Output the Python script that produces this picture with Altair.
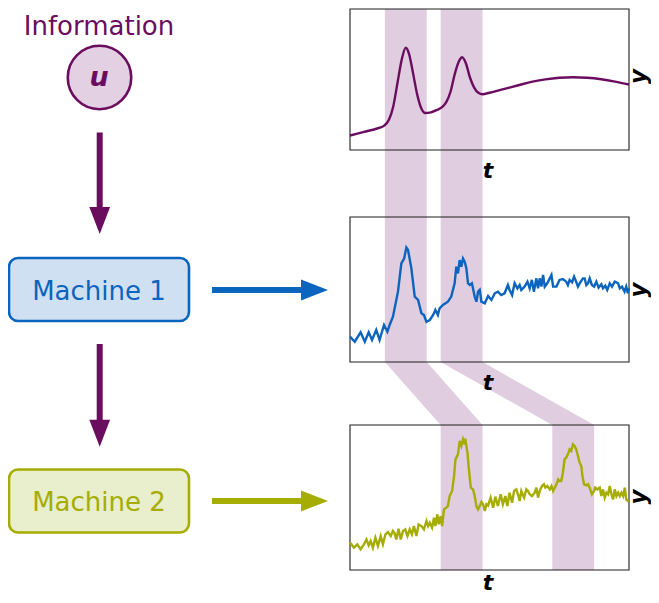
import altair as alt
import pandas as pd

# ---------------- data ----------------
# Information signal u(t) (smooth)
t_info = [0, 5, 10, 12, 14, 15.5, 17, 18.5, 20, 21.2, 22.5, 24, 25.5, 27, 29, 31, 33, 34.5, 36, 37.5,
          39, 40.2, 41.5, 43, 44.5, 46, 47.5, 50, 55, 60, 65, 70, 75, 80, 85, 90, 95, 100]
y_info = [1.0, 1.25, 1.5, 1.65, 2.1, 3.0, 4.6, 6.2, 7.05, 6.6, 5.4, 3.9, 2.9, 2.55, 2.6, 2.75, 2.95, 3.3, 4.0, 5.2,
          6.1, 6.4, 6.0, 5.0, 4.3, 3.95, 3.85, 3.95, 4.2, 4.45, 4.7, 4.87, 4.98, 5.02, 4.98, 4.88, 4.72, 4.52]

# Machine 1 output (noisy)
t_m1 = [0, 1.7, 3.8, 5.3, 6.7, 7.9, 9.4, 10.6, 12.2, 13.4, 14.2, 15.4, 17.2, 18.4, 19.4, 20.2, 20.8, 22.0, 23.2, 24.4,
        25.6, 26.5, 27.4, 28.6, 29.8, 30.6, 31.5, 32.1, 33.3, 35.1, 36.3, 37.5, 38.1, 38.7, 39.3, 39.9, 40.5, 41.1, 41.7, 42.3,
        42.9, 43.7, 44.7, 45.3, 45.9, 46.5, 47.1, 48.3, 49.5, 50.7, 51.9, 53.0, 54.2, 55.4, 56.6, 57.2, 58.1, 59.0, 60.0, 60.8,
        61.4, 62.6, 63.6, 64.4, 65.2, 65.9, 66.8, 67.4, 68.0, 68.6, 69.2, 69.8, 70.7, 71.6, 72.2, 72.8, 74.0, 75.1, 76.3, 77.5,
        78.1, 78.7, 79.6, 80.3, 80.8, 81.7, 82.7, 83.5, 84.1, 84.7, 85.3, 85.9, 86.7, 87.5, 88.3, 89.1, 90.1, 90.7, 91.5, 92.2,
        93.1, 93.9, 94.9, 96.1, 96.7, 97.5, 98.4, 99.0, 99.6, 100]
y_m1 = [1.75, 1.40, 2.05, 1.40, 2.05, 1.52, 2.21, 1.52, 2.55, 2.09, 2.55, 3.13, 4.85, 6.80, 7.14, 7.89, 7.72, 6.46, 4.51, 4.28,
        3.36, 3.24, 2.78, 2.90, 3.24, 3.59, 3.24, 3.70, 3.93, 4.16, 4.51, 5.43, 6.57, 6.11, 7.03, 6.57, 7.14, 6.92, 6.46, 5.43,
        5.31, 5.43, 4.51, 4.16, 4.85, 4.97, 4.16, 4.05, 4.55, 4.28, 4.74, 4.85, 4.62, 4.74, 5.31, 4.97, 4.62, 5.43, 5.08, 5.31,
        4.97, 5.20, 5.54, 5.08, 5.66, 4.85, 5.77, 5.08, 5.77, 5.20, 6.00, 5.20, 5.43, 5.77, 6.00, 5.20, 5.20, 5.66, 5.72, 5.54,
        5.31, 5.66, 5.49, 5.89, 5.66, 5.20, 5.54, 5.77, 5.77, 5.31, 5.43, 5.77, 5.31, 5.20, 5.54, 5.13, 5.36, 5.08, 5.26, 4.97,
        5.43, 5.20, 5.54, 5.43, 5.08, 5.20, 4.85, 5.20, 4.74, 5.08]

# Machine 2 output (noisy)
t_m2 = [0, 1.4, 2.6, 3.8, 5.0, 5.9, 6.7, 7.4, 8.2, 9.1, 10.0, 11.0, 11.8, 12.7, 13.6, 14.6, 15.4, 16.0, 16.6, 17.4,
        18.2, 19.0, 19.8, 20.6, 21.4, 22.2, 22.9, 23.8, 24.6, 25.6, 26.5, 27.4, 28.0, 28.6, 29.4, 30.1, 30.6, 31.3, 31.8, 32.5,
        33.0, 33.7, 34.5, 35.1, 35.7, 36.6, 37.3, 37.8, 38.7, 39.3, 39.9, 40.5, 41.1, 41.3, 42.1, 42.5, 43.3, 44.1, 44.7, 45.3,
        45.9, 46.5, 47.1, 47.7, 48.3, 48.9, 49.5, 50.4, 51.3, 52.1, 53.0, 54.0, 54.8, 55.7, 56.4, 57.2, 58.1, 58.8, 59.6, 60.2,
        60.8, 61.4, 62.4, 63.2, 63.8, 64.4, 65.2, 66.2, 66.8, 67.4, 68.0, 68.8, 69.5, 70.0, 70.7, 71.6, 72.2, 72.8, 73.4, 74.0,
        74.6, 75.1, 75.7, 76.3, 76.9, 77.5, 78.1, 78.7, 79.3, 79.9, 80.5, 81.1, 81.7, 82.3, 82.9, 83.3, 83.9, 84.7, 85.3, 85.9,
        86.7, 87.5, 87.9, 88.6, 89.5, 90.1, 90.7, 91.3, 91.9, 92.5, 93.1, 93.7, 94.3, 94.9, 95.5, 96.1, 96.7, 97.3, 97.9, 98.5,
        99.0, 99.6, 100]
y_m2 = [1.89, 1.54, 1.77, 1.43, 1.77, 2.11, 1.70, 2.00, 1.54, 2.23, 1.66, 2.34, 1.77, 2.46, 2.62, 2.34, 2.69, 2.53, 2.11, 2.85,
        2.11, 2.69, 2.80, 2.34, 2.80, 2.46, 3.03, 2.34, 3.15, 3.03, 2.80, 3.38, 3.03, 3.26, 2.92, 3.61, 3.03, 3.84, 3.15, 3.72,
        3.03, 4.18, 4.30, 4.41, 5.10, 5.45, 6.48, 7.63, 7.98, 8.90, 8.55, 9.01, 8.67, 9.06, 8.09, 7.17, 5.68, 5.56, 5.10, 4.41,
        4.18, 4.41, 4.69, 4.53, 4.07, 4.53, 4.45, 4.99, 4.30, 5.06, 4.41, 5.22, 4.53, 5.10, 4.41, 5.33, 4.64, 5.45, 5.56, 5.22,
        4.76, 5.45, 4.99, 5.56, 5.45, 5.22, 5.10, 5.33, 5.68, 4.99, 5.45, 5.79, 5.91, 5.68, 5.79, 5.56, 5.79, 5.45, 5.68, 5.91,
        6.25, 6.14, 6.14, 6.71, 7.63, 7.75, 7.98, 8.32, 8.21, 8.67, 8.55, 8.32, 7.86, 7.40, 7.17, 6.48, 5.91, 5.84, 5.91, 5.68,
        5.22, 5.45, 5.68, 5.56, 5.68, 5.10, 5.56, 4.99, 5.33, 5.22, 5.79, 5.22, 4.87, 5.56, 5.10, 5.33, 5.10, 5.33, 5.10, 5.68,
        4.87, 4.76, 4.80]

# highlighted time windows (t units): upper panels -> lower panel
band_upper_start = [12.5, 32.5]
band_lower_start = [32.5, 72.5]
band_width = 15.0

node_labels = ["Information", "Machine 1", "Machine 2"]
symbol_u = "u"
axis_t = "t"
axis_y = "y"

# ---------------- layout / style ----------------
W, H, M = 659, 603, 8
PL, PR = 350, 629
PH = 145
BOTTOMS = [150, 362, 570]
TOPS = [9, 217, 425]
SX = (PR - PL) / 100.0
SY = PH / 10.0

PURPLE = "#6b0d5f"
BAND = "#e0cde0"
CIRC_FILL = "#e3d0e3"
BLUE = "#0b64bd"
BLUE_FILL = "#cfe0f2"
OLIVE = "#a5ad00"
OLIVE_FILL = "#e9eecc"
FONT = "DejaVu Sans"

XS = alt.Scale(domain=[M, W - M], nice=False, zero=False)
YS = alt.Scale(domain=[M, H - M], nice=False, zero=False, reverse=True)


def X(f):
    return alt.X(f, type="quantitative", scale=XS, axis=None)


def Y(f):
    return alt.Y(f, type="quantitative", scale=YS, axis=None)


# bands (vertical strip through panels 1-2, slanted link, strip through panel 3)
rows = []
for i, (a, b) in enumerate(zip(band_upper_start, band_lower_start)):
    for yy, s in [(TOPS[0], a), (BOTTOMS[1], a), (TOPS[2], b), (BOTTOMS[2], b)]:
        rows.append({"band": i, "py": yy, "t0": s, "t1": s + band_width})
bands = (
    alt.Chart(pd.DataFrame(rows))
    .transform_calculate(x0=f"{PL} + datum.t0 * {SX}", x1=f"{PL} + datum.t1 * {SX}")
    .mark_area(orient="horizontal", color=BAND, opacity=1)
    .encode(y=Y("py"), x=X("x0"), x2=alt.X2("x1"), detail="band:N")
)

# panel frames
frames = (
    alt.Chart(pd.DataFrame({"yt": TOPS, "yb": BOTTOMS, "xl": [PL] * 3, "xr": [PR] * 3}))
    .mark_rect(fillOpacity=0, stroke="#1e1e1e", strokeWidth=1.1)
    .encode(x=X("xl"), x2=alt.X2("xr"), y=Y("yt"), y2=alt.Y2("yb"))
)


def series(ts, vs, yb, color, interp):
    df = pd.DataFrame({"t": ts, "v": vs})
    return (
        alt.Chart(df)
        .transform_calculate(px=f"{PL} + datum.t * {SX}", py=f"{yb} - datum.v * {SY}")
        .mark_line(color=color, strokeWidth=2.4, interpolate=interp)
        .encode(x=X("px"), y=Y("py"), order=alt.Order("t:Q"))
    )


line1 = series(t_info, y_info, BOTTOMS[0], PURPLE, "monotone")
line2 = series(t_m1, y_m1, BOTTOMS[1], BLUE, "linear")
line3 = series(t_m2, y_m2, BOTTOMS[2], OLIVE, "linear")

# axis letters
t_lbl = (
    alt.Chart(pd.DataFrame({"x": [488] * 3, "y": [178, 390, 589.5]}))
    .mark_text(text=axis_t, font=FONT, fontSize=22, fontWeight="bold", fontStyle="italic",
               align="center", baseline="alphabetic", color="black")
    .encode(x=X("x"), y=Y("y"))
)
y_lbl = (
    alt.Chart(pd.DataFrame({"x": [645.5] * 3, "y": [76.5, 290, 497]}))
    .mark_text(text=axis_y, font=FONT, fontSize=23, fontWeight="bold", fontStyle="italic", angle=270,
               align="center", baseline="alphabetic", color="black")
    .encode(x=X("x"), y=Y("y"))
)

# left diagram
boxes = (
    alt.Chart(pd.DataFrame({
        "x0": [9, 9], "x1": [189, 189], "y0": [258, 469.5], "y1": [321, 532.5],
        "fill": [BLUE_FILL, OLIVE_FILL], "stroke": [BLUE, OLIVE]}))
    .mark_rect(cornerRadius=9, strokeWidth=2.6)
    .encode(x=X("x0"), x2=alt.X2("x1"), y=Y("y0"), y2=alt.Y2("y1"),
            fill=alt.Fill("fill:N", scale=None), stroke=alt.Stroke("stroke:N", scale=None))
)

node_text = (
    alt.Chart(pd.DataFrame({"x": [99, 99, 99], "y": [34.5, 300, 511],
                            "label": node_labels, "c": [PURPLE, BLUE, OLIVE]}))
    .mark_text(font=FONT, fontSize=26, align="center", baseline="alphabetic")
    .encode(x=X("x"), y=Y("y"), text="label:N", color=alt.Color("c:N", scale=None))
)

circle = (
    alt.Chart(pd.DataFrame({"x": [99.5], "y": [77.5]}))
    .mark_point(shape="circle", size=4030, fill=CIRC_FILL, stroke=PURPLE, strokeWidth=2.6,
                fillOpacity=1, strokeOpacity=1, opacity=1)
    .encode(x=X("x"), y=Y("y"))
)
u_text = (
    alt.Chart(pd.DataFrame({"x": [99], "y": [85.5]}))
    .mark_text(text=symbol_u, font=FONT, fontSize=27, fontWeight="bold", fontStyle="italic",
               align="center", baseline="alphabetic", color=PURPLE)
    .encode(x=X("x"), y=Y("y"))
)

shafts = (
    alt.Chart(pd.DataFrame({
        "x": [99.7, 99.7, 212, 212], "y": [132.5, 344, 290, 501],
        "x2": [99.7, 99.7, 306, 306], "y2": [212, 423, 290, 501],
        "c": [PURPLE, PURPLE, BLUE, OLIVE]}))
    .mark_rule(strokeWidth=6, strokeCap="butt")
    .encode(x=X("x"), y=Y("y"), x2=alt.X2("x2"), y2=alt.Y2("y2"), color=alt.Color("c:N", scale=None))
)
heads_down = (
    alt.Chart(pd.DataFrame({"x": [99.7, 99.7], "y": [220.5, 433.2]}))
    .mark_point(shape="M-0.77,-1L0.77,-1L0,1Z", size=729, filled=True, color=PURPLE,
                opacity=1, fillOpacity=1, strokeWidth=0)
    .encode(x=X("x"), y=Y("y"))
)
heads_right = (
    alt.Chart(pd.DataFrame({"x": [314.5, 314.5], "y": [290, 501], "c": [BLUE, OLIVE]}))
    .mark_point(shape="M-1,-0.77L1,0L-1,0.77Z", size=729, filled=True,
                opacity=1, fillOpacity=1, strokeWidth=0)
    .encode(x=X("x"), y=Y("y"), color=alt.Color("c:N", scale=None))
)

chart = (
    alt.layer(bands, frames, line1, line2, line3, t_lbl, y_lbl, boxes, node_text,
              circle, u_text, shafts, heads_down, heads_right)
    .properties(width=W - 2 * M, height=H - 2 * M, padding=0, autosize="none", background="white")
    .configure_view(stroke=None)
)

chart.save("out.html", embed_options={"renderer": "svg", "actions": False})
